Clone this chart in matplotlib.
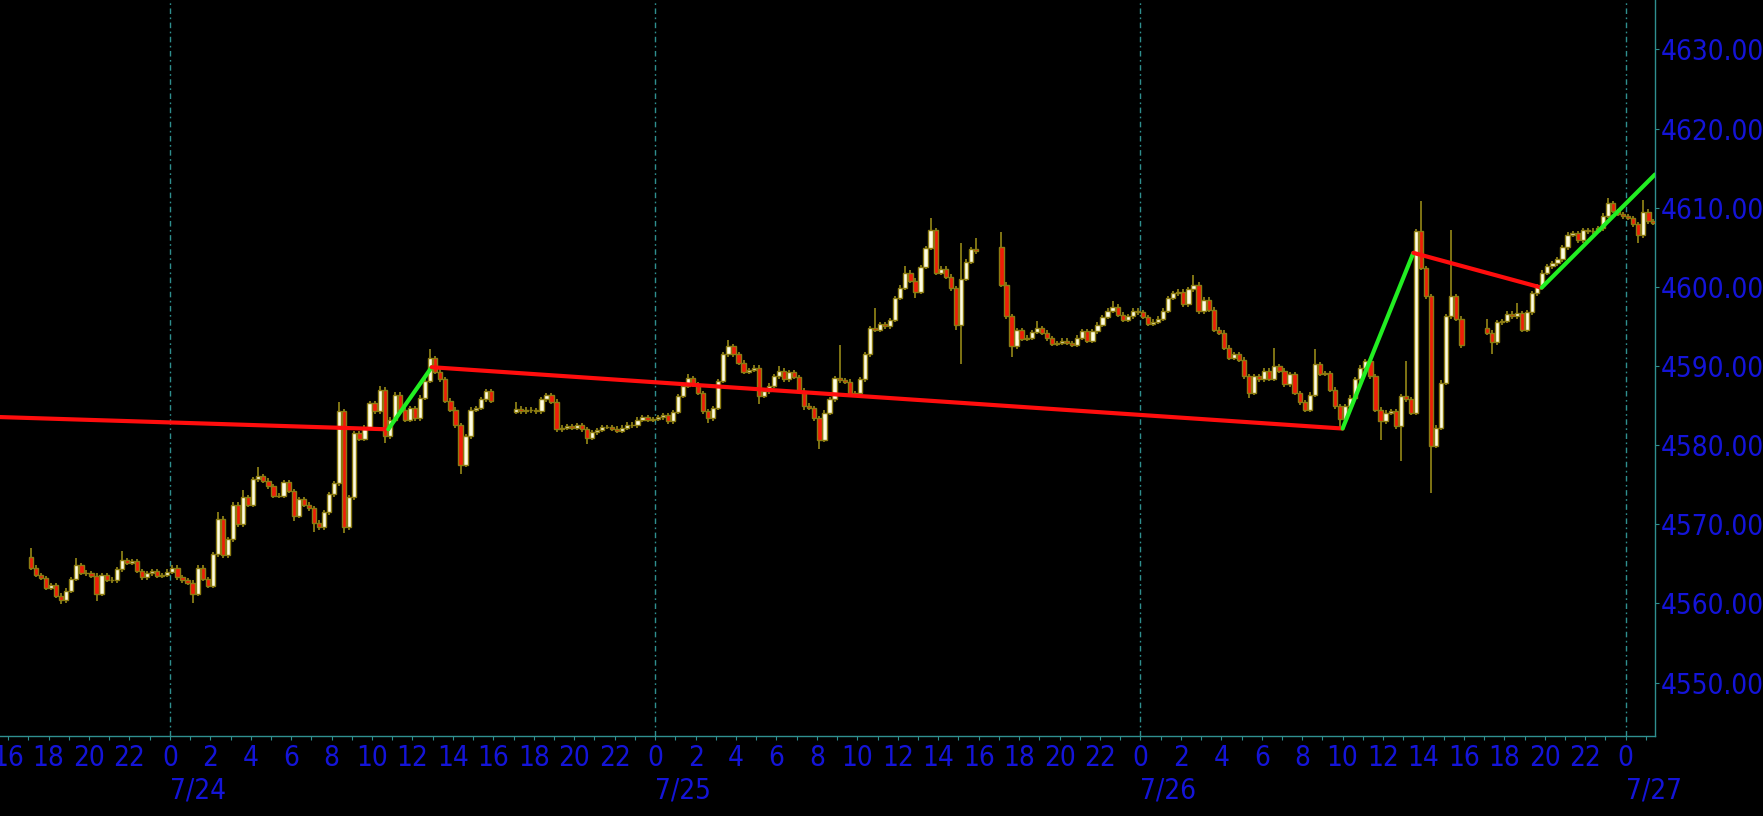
import matplotlib
matplotlib.use("Agg")
import matplotlib.pyplot as plt
from matplotlib import font_manager
from matplotlib.font_manager import FontProperties
import numpy as np
import os

# ---------------- data (hours measured from 7/24 00:00) ----------------
session_start = [-7.0, 17.0, 41.0, 65.0]
session_open = [4565.9, 4584.2, 4605.0, 4594.8]

s1_close = [4564.5, 4563.6, 4563.2, 4562.0, 4562.3, 4561.0, 4560.4, 4561.6, 4563.1, 4564.8,
            4563.9, 4563.8, 4563.5, 4561.2, 4563.6, 4563.0, 4562.9, 4564.3, 4565.5, 4565.1,
            4565.3, 4564.1, 4563.3, 4563.8, 4564.1, 4563.5, 4563.6, 4564.0, 4564.5, 4563.3,
            4562.9, 4562.6, 4561.2, 4564.5, 4563.1, 4562.2, 4566.2, 4570.7, 4566.1, 4568.1,
            4572.5, 4570.0, 4573.4, 4572.5, 4575.7, 4576.1, 4575.5, 4574.8, 4573.6, 4573.6,
            4575.3, 4574.2, 4571.1, 4573.2, 4572.5, 4572.0, 4570.2, 4569.6, 4571.5, 4573.8,
            4575.2, 4584.3, 4569.6, 4573.4, 4581.5, 4580.8, 4582.2, 4585.3, 4584.3, 4587.0,
            4581.1, 4583.2, 4586.4, 4584.5, 4583.2, 4584.7, 4583.4, 4586.0, 4588.1, 4591.0,
            4589.3, 4588.3, 4585.6, 4584.5, 4582.5, 4577.5, 4581.1, 4584.5, 4584.7, 4585.8,
            4586.8, 4585.6]
s2_close = [4584.6, 4584.3, 4584.5, 4584.4, 4584.3, 4585.8, 4586.3, 4585.5, 4582.0, 4582.2,
            4582.4, 4582.2, 4582.5, 4582.0, 4580.9, 4581.6, 4581.9, 4582.3, 4582.3, 4582.1,
            4581.8, 4582.2, 4582.6, 4582.5, 4583.2, 4583.5, 4583.2, 4583.3, 4583.5, 4583.8,
            4583.0, 4584.2, 4586.2, 4587.5, 4588.5, 4587.7, 4586.6, 4584.3, 4583.4, 4584.7,
            4588.1, 4591.5, 4592.5, 4591.5, 4590.4, 4589.3, 4589.5, 4589.8, 4586.2, 4586.8,
            4587.5, 4588.7, 4589.4, 4588.3, 4589.2, 4588.6, 4586.9, 4585.0, 4584.7, 4583.4,
            4580.7, 4584.1, 4585.8, 4588.5, 4588.2, 4588.0, 4586.5, 4586.6, 4588.3, 4591.5,
            4594.8, 4594.6, 4595.3, 4595.0, 4595.8, 4598.6, 4599.9, 4601.8, 4600.8, 4599.4,
            4602.5, 4604.9, 4607.2, 4601.8, 4602.3, 4601.3, 4599.8, 4595.2, 4601.0, 4603.2,
            4604.8, 4604.5]
s3_close = [4600.3, 4596.3, 4592.5, 4594.5, 4593.4, 4593.6, 4594.3, 4594.8, 4594.2, 4593.5,
            4592.8, 4592.9, 4593.2, 4592.9, 4592.7, 4593.6, 4594.4, 4593.2, 4594.4, 4595.2,
            4596.2, 4597.0, 4597.5, 4596.5, 4595.8, 4596.3, 4597.0, 4596.8, 4596.2, 4595.3,
            4595.6, 4596.0, 4597.0, 4598.6, 4599.2, 4599.4, 4597.8, 4599.7, 4600.3, 4596.9,
            4598.4, 4597.1, 4594.6, 4594.2, 4592.3, 4591.0, 4591.5, 4590.8, 4588.7, 4586.6,
            4588.7, 4588.3, 4589.4, 4588.4, 4590.0, 4589.4, 4587.7, 4589.0, 4586.6, 4585.4,
            4584.5, 4586.4, 4590.2, 4589.0, 4589.1, 4587.0, 4584.9, 4583.3, 4584.9, 4586.0,
            4588.3, 4589.8, 4590.6, 4588.7, 4584.5, 4583.0, 4584.1, 4584.3, 4582.4, 4586.2,
            4585.8, 4584.1, 4607.0, 4602.4, 4598.8, 4579.9, 4582.2, 4587.9, 4596.3, 4598.8,
            4596.0, 4592.6]
s4_close = [4594.2, 4593.0, 4595.5, 4595.7, 4596.6, 4596.3, 4596.7, 4594.6, 4596.8, 4599.2,
            4600.1, 4601.8, 4602.6, 4603.0, 4603.5, 4605.0, 4606.6, 4606.8, 4605.9, 4607.2,
            4607.0, 4607.1, 4607.4, 4609.0, 4610.6, 4609.6, 4609.2, 4608.9, 4608.7, 4607.9,
            4606.5, 4609.5, 4608.3, 4608.1]

# notable wick extremes: (candle index, price)
s1_highs = [(0, 4567.0), (9, 4565.7), (18, 4566.6), (37, 4571.5), (42, 4574.3), (45, 4577.2),
            (61, 4585.5), (69, 4587.5), (79, 4592.2)]
s1_lows = [(6, 4559.9), (13, 4560.3), (32, 4560.1), (52, 4570.4), (56, 4569.0), (62, 4568.9),
           (70, 4580.3), (85, 4576.3)]
s2_highs = [(0, 4585.5), (34, 4589.0), (42, 4593.3), (52, 4590.0), (64, 4592.7), (71, 4597.3),
            (77, 4602.6), (82, 4608.7), (88, 4605.5), (91, 4606.2)]
s2_lows = [(14, 4580.1), (38, 4582.8), (48, 4585.2), (57, 4584.5), (60, 4579.5), (79, 4598.6),
           (87, 4594.6), (88, 4590.2)]
s3_highs = [(0, 4606.9), (7, 4595.7), (22, 4598.2), (38, 4601.5), (54, 4592.3), (62, 4592.1),
            (80, 4590.6), (83, 4610.8), (89, 4607.2)]
s3_lows = [(2, 4591.2), (49, 4586.0), (67, 4582.2), (75, 4580.7), (79, 4578.0), (85, 4574.0)]
s4_highs = [(0, 4596.0), (6, 4598.0), (24, 4611.2), (31, 4611.0)]
s4_lows = [(1, 4591.5), (30, 4605.5)]

# zigzag line vertices (hour, price)
zz_hours = [-8.4, 10.8, 12.95, 58.0, 61.5, 67.84, 73.45]
zz_prices = [4583.55, 4582.0, 4589.85, 4582.1, 4604.3, 4599.9, 4614.2]

price_ticks = [4550, 4560, 4570, 4580, 4590, 4600, 4610, 4620, 4630]
day_hours = [0, 24, 48, 72]
day_labels = ["7/24", "7/25", "7/26", "7/27"]

# ---------------- style ----------------
BAR_HOURS = 0.25
BODY_W = 0.21
WICK_MIN = 0.3
UP_FILL = "#fffde2"
DN_FILL = "#f01c08"
EDGE = "#8c7c12"
WICK = "#958818"
TEAL = "#2f8f8f"
BLUE = "#1414d8"
XMIN, XMAX = -8.40, 73.45
YMIN, YMAX = 4543.25, 4636.25


def pick_narrow_font():
    files = set(f.fname for f in font_manager.fontManager.ttflist)
    try:
        files |= set(font_manager.findSystemFonts())
    except Exception:
        pass
    prefs = ["liberationsansnarrow-regular", "arialn.ttf", "dejavusanscondensed.ttf",
             "robotocondensed-regular", "roboto_condensed-regular", "opensans-condensedregular",
             "opensans_condensed-regular", "notosans-condensed.ttf", "notosanscondensed-regular",
             "notosans-condensed-regular"]
    low = {os.path.basename(f).lower(): f for f in files}
    for p in prefs:
        for name, path in low.items():
            if name.startswith(p) or name == p:
                return path, p
    return None, None


npath, nkey = pick_narrow_font()
if npath is not None:
    if "narrow" in nkey or "arialn" in nkey:
        fsize = 21
    else:
        fsize = 20
    FP = FontProperties(fname=npath, size=fsize)
else:
    fsize = 17
    FP = FontProperties(family="DejaVu Sans", size=fsize)

fig = plt.figure(figsize=(17.63, 8.16), dpi=100, facecolor="black")
ax = fig.add_axes([0, 80 / 816, 1655 / 1763, 736 / 816])
ax.set_facecolor("black")

# build candles
xs, opens, closes, highs, lows = [], [], [], [], []
for start, op, cl, hi_ov, lo_ov in zip(session_start, session_open,
                                       [s1_close, s2_close, s3_close, s4_close],
                                       [s1_highs, s2_highs, s3_highs, s4_highs],
                                       [s1_lows, s2_lows, s3_lows, s4_lows]):
    hi_d = dict(hi_ov)
    lo_d = dict(lo_ov)
    prev = op
    for i, c in enumerate(cl):
        o = prev
        h = max(o, c) + WICK_MIN
        l = min(o, c) - WICK_MIN
        if i in hi_d:
            h = max(h, hi_d[i])
        if i in lo_d:
            l = min(l, lo_d[i])
        xs.append(start + BAR_HOURS * i + BAR_HOURS / 2)
        opens.append(o); closes.append(c); highs.append(h); lows.append(l)
        prev = c

xs = np.array(xs); opens = np.array(opens); closes = np.array(closes)
highs = np.array(highs); lows = np.array(lows)
up = closes >= opens

ax.vlines(xs, lows, highs, color=WICK, lw=1.2, zorder=2)
bottoms = np.minimum(opens, closes)
heights = np.abs(closes - opens)
ax.bar(xs[up], heights[up], bottom=bottoms[up], width=BODY_W, color=UP_FILL,
       edgecolor=EDGE, linewidth=1.0, zorder=3)
ax.bar(xs[~up], heights[~up], bottom=bottoms[~up], width=BODY_W, color=DN_FILL,
       edgecolor=EDGE, linewidth=1.0, zorder=3)

# zigzag
for k in range(len(zz_hours) - 1):
    col = "#22ee22" if zz_prices[k + 1] > zz_prices[k] else "#ff0d0d"
    ax.plot(zz_hours[k:k + 2], zz_prices[k:k + 2], color=col, lw=3.0,
            solid_capstyle="round", zorder=4)

# day separators
for d in day_hours:
    ax.axvline(d, color=TEAL, lw=1.0, linestyle=(0, (4, 2.5, 1.2, 2.5)), zorder=1)

ax.set_xlim(XMIN, XMAX)
ax.set_ylim(YMIN, YMAX)

for s in ["top", "left"]:
    ax.spines[s].set_visible(False)
for s in ["right", "bottom"]:
    ax.spines[s].set_color(TEAL)
    ax.spines[s].set_linewidth(1.0)

major = list(range(-8, 74, 2))
ax.set_xticks(major)
ax.set_xticklabels([str(h % 24) for h in major])
ax.set_xticks(list(range(-8, 74)), minor=True)
ax.tick_params(axis="x", which="both", direction="out", color=TEAL, length=3, width=0.8,
               labelcolor=BLUE, pad=3)

ax.yaxis.tick_right()
ax.set_yticks(price_ticks)
ax.set_yticklabels([f"{p:.3f}" for p in price_ticks])
ax.tick_params(axis="y", which="both", direction="out", color=TEAL, length=3, width=0.8,
               labelcolor=BLUE, pad=1)
for lab in ax.get_xticklabels() + ax.get_yticklabels():
    lab.set_fontproperties(FP)

for d, lab in zip(day_hours, day_labels):
    ax.text(d, -0.055, lab, transform=ax.get_xaxis_transform(), ha="left", va="top",
            color=BLUE, fontproperties=FP, clip_on=False)

fig.savefig("out.png", dpi=100, facecolor="black")
